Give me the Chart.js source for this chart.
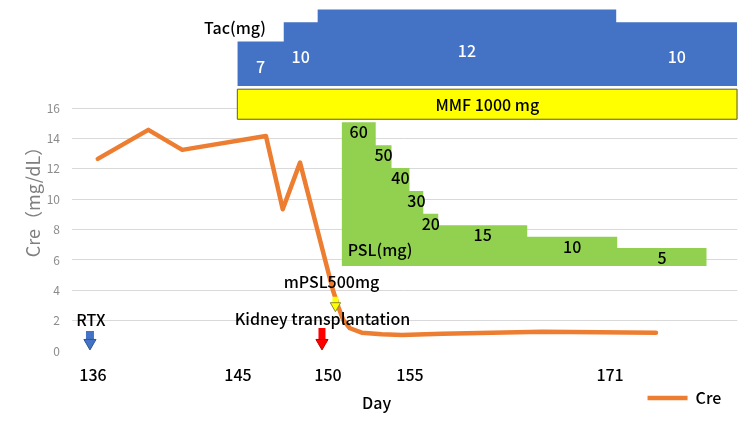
<!DOCTYPE html>
<html>
<head>
<meta charset="utf-8">
<script src="https://cdn.jsdelivr.net/npm/chart.js@4"></script>
<style>
html, body { margin: 0; padding: 0; background: #fff; }
</style>
</head>
<body>
<canvas id="creChart" width="750" height="422"></canvas>
<script>
// x = position along the timeline (the original axis is not linear in days)
const dayLabels = ['136', '145', '150', '155', '171'];
const dayPos = [1.26, 9.98, 15.39, 20.32, 32.35];

const creTicks = [0, 2, 4, 6, 8, 10, 12, 14, 16];
const crePos = [1.55, 4.59, 6.63, 11.66, 12.67, 13.71, 15.69, 16.01, 16.31, 16.71, 17.42, 18.62, 19.84, 22.25, 28.26, 35.11];
const creValues = [12.66, 14.57, 13.25, 14.17, 9.34, 12.41, 4.0, 2.92, 2.04, 1.5, 1.21, 1.1, 1.05, 1.14, 1.27, 1.2];

const tacStart = [9.94, 12.73, 14.77, 32.72];
const tacEnd = 40.0;
const tacDose = [7, 10, 12, 10];

const mmfStart = 9.94;
const mmfEnd = 40.0;
const mmfLabel = 'MMF 1000 mg';

const pslStart = [16.21, 18.26, 19.21, 20.29, 21.12, 22.02, 27.37, 32.78];
const pslEnd = 38.16;
const pslDose = [60, 50, 40, 30, 20, 15, 10, 5];
const pslBase = -2.8;

// events marked with arrows: RTX, kidney transplantation, mPSL 500mg
const arrowPos = [1.08, 15.03, 15.84];
const arrowFrom = [1.32, 1.52, 3.58];
const arrowTo = [0.07, 0.07, 2.59];

const notes = [
    {text: 'Tac(mg)', x: 9.80, y: 21.29},
    {text: 'RTX', x: 1.14, y: 2.04},
    {text: 'Kidney transplantation', x: 15.06, y: 2.11},
    {text: 'mPSL500mg', x: 15.60, y: 4.55},
    {text: 'PSL(mg)', x: 18.52, y: 6.66}
];

Chart.defaults.font.family = "'Noto Sans CJK JP', 'Noto Sans', sans-serif";
Chart.defaults.color = '#000';

const stepPoints = (starts, end, doses) =>
    starts.map((s, i) => ({x: s, y: doses[i]})).concat({x: end, y: doses[doses.length - 1]});

const arrowStyles = [
    {color: '#4472C4', edge: '#2f5597', width: 8, r: 7},
    {color: '#FF0000', edge: '#c00000', width: 7, r: 7},
    {color: '#FFFF00', edge: '#8a8a2a', width: 6, r: 6}
];

const arrowHeads = arrowPos.map((x, i) => ({
    label: 'arrow',
    data: [{x: x, y: arrowTo[i] + arrowStyles[i].r / 15.2}],
    showLine: false,
    pointStyle: 'triangle',
    rotation: 180,
    pointRadius: arrowStyles[i].r,
    backgroundColor: arrowStyles[i].color,
    borderColor: arrowStyles[i].edge,
    borderWidth: 1
}));
const arrowShafts = arrowPos.map((x, i) => ({
    label: 'arrow',
    data: [{x: x, y: arrowFrom[i]}, {x: x, y: arrowTo[i] + arrowStyles[i].r / 15.2}],
    borderColor: arrowStyles[i].color,
    borderWidth: arrowStyles[i].width,
    borderCapStyle: 'butt',
    pointRadius: 0
}));

const textPlugin = {
    id: 'textNotes',
    afterDatasetsDraw(chart) {
        const {ctx} = chart;
        const {x, y, yTac, yPsl} = chart.scales;
        ctx.save();
        ctx.font = "500 16px 'Noto Sans CJK JP'";
        ctx.textAlign = 'center';
        ctx.textBaseline = 'middle';

        ctx.fillStyle = '#fff';
        tacDose.forEach((d, i) => {
            const x0 = x.getPixelForValue(tacStart[i]);
            const x1 = x.getPixelForValue(i < tacDose.length - 1 ? tacStart[i + 1] : tacEnd);
            const yMid = (yTac.getPixelForValue(d) + yTac.getPixelForValue(0)) / 2;
            ctx.fillText(String(d), (x0 + x1) / 2, yMid + 3);
        });

        ctx.fillStyle = '#000';
        ctx.textBaseline = 'top';
        pslDose.forEach((d, i) => {
            const x0 = x.getPixelForValue(pslStart[i]);
            const x1 = x.getPixelForValue(i < pslDose.length - 1 ? pslStart[i + 1] : pslEnd);
            ctx.fillText(String(d), (x0 + x1) / 2, yPsl.getPixelForValue(d) + 2);
        });

        ctx.textBaseline = 'middle';
        ctx.fillText(mmfLabel, (x.getPixelForValue(mmfStart) + x.getPixelForValue(mmfEnd)) / 2,
            (y.getPixelForValue(15.27) + y.getPixelForValue(17.25)) / 2 + 1);

        notes.forEach(n => {
            ctx.fillText(n.text, x.getPixelForValue(n.x), y.getPixelForValue(n.y));
        });
        ctx.restore();
    }
};

const creChart = new Chart(document.getElementById('creChart'), {
    type: 'line',
    data: {
        datasets: [
            ...arrowHeads,
            ...arrowShafts,
            {
                label: 'Cre',
                data: crePos.map((p, i) => ({x: p, y: creValues[i]})),
                borderColor: '#ED7D31',
                backgroundColor: '#ED7D31',
                borderWidth: 4.5,
                borderCapStyle: 'round',
                borderJoinStyle: 'round',
                pointRadius: 0,
                tension: 0
            },
            {
                label: 'PSL',
                data: stepPoints(pslStart, pslEnd, pslDose),
                yAxisID: 'yPsl',
                stepped: true,
                fill: {value: pslBase},
                backgroundColor: '#92D050',
                borderColor: 'rgba(0,0,0,0)',
                borderWidth: 0,
                pointRadius: 0
            },
            {
                label: 'MMF',
                data: [
                    {x: mmfStart, y: 17.25}, {x: mmfEnd, y: 17.25},
                    {x: mmfEnd, y: 15.27}, {x: mmfStart, y: 15.27}, {x: mmfStart, y: 17.25}
                ],
                fill: 'shape',
                backgroundColor: '#FFFF00',
                borderColor: '#5c5c36',
                borderWidth: 1,
                pointRadius: 0
            },
            {
                label: 'Tac',
                data: stepPoints(tacStart, tacEnd, tacDose),
                yAxisID: 'yTac',
                stepped: true,
                fill: {value: 0},
                backgroundColor: '#4472C4',
                borderColor: 'rgba(0,0,0,0)',
                borderWidth: 0,
                pointRadius: 0
            }
        ]
    },
    options: {
        responsive: false,
        animation: false,
        events: [],
        layout: {padding: {top: 8, right: 12.7, bottom: 6, left: 0}},
        scales: {
            x: {
                type: 'linear',
                min: 0,
                max: 40,
                grid: {display: false, drawTicks: false},
                border: {display: false},
                afterBuildTicks: axis => { axis.ticks = dayPos.map(v => ({value: v})); },
                afterFit: axis => { axis.height = 31; },
                ticks: {
                    autoSkip: false,
                    maxRotation: 0,
                    padding: 14,
                    color: '#000',
                    font: {size: 16, weight: 500},
                    callback: (value, index) => dayLabels[index]
                },
                title: {
                    display: true,
                    text: 'Day\u2003\u2003\u2003\u2002',
                    color: '#000',
                    font: {size: 16, weight: 500},
                    padding: {top: 0, bottom: -30.6}
                }
            },
            y: {
                type: 'linear',
                min: 0,
                max: 22.6,
                grid: {
                    drawTicks: false,
                    color: ctx => ctx.tick && ctx.tick.value === 0 ? 'rgba(0,0,0,0)' : '#d9d9d9'
                },
                border: {display: false},
                afterBuildTicks: axis => { axis.ticks = creTicks.map(v => ({value: v})); },
                afterFit: axis => {
                    axis.width = 72;
                    axis.paddingTop = 0;
                    axis.paddingBottom = 0;
                },
                ticks: {padding: 12, color: '#8c8c8c', font: {size: 12}},
                title: {
                    display: true,
                    text: 'Cre（mg/dL）\u3000\u3000\u2002',
                    color: '#7f7f7f',
                    font: {size: 18},
                    padding: {top: 22, bottom: 0}
                }
            },
            yTac: {type: 'linear', display: false, min: -41.57, max: 12.24},
            yPsl: {type: 'linear', display: false, min: -40, max: 110}
        },
        plugins: {
            tooltip: {enabled: false},
            legend: {
                position: 'bottom',
                align: 'end',
                labels: {
                    filter: item => item.text.startsWith('Cre'),
                    generateLabels: chart => Chart.defaults.plugins.legend.labels.generateLabels(chart)
                        .map(item => item.text === 'Cre' ? Object.assign(item, {text: 'Cre\u2002'}) : item),
                    usePointStyle: true,
                    pointStyle: 'line',
                    pointStyleWidth: 40,
                    boxWidth: 40,
                    padding: 8,
                    color: '#000',
                    font: {size: 16, weight: 500}
                }
            }
        }
    },
    plugins: [textPlugin]
});
</script>
</body>
</html>
